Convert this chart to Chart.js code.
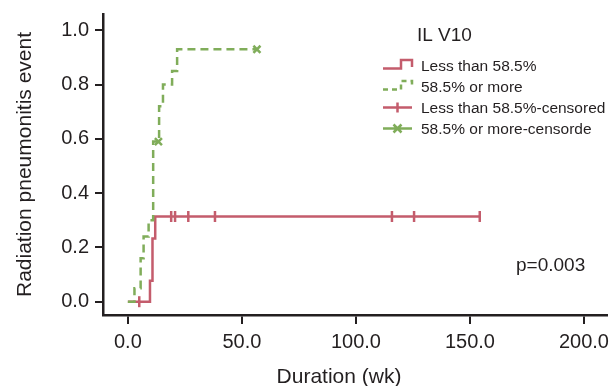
<!DOCTYPE html>
<html lang="en">
<head>
  <meta charset="UTF-8">
  <title>IL V10 - Radiation pneumonitis</title>
  <style>
    body { margin: 0; background: #fff; }
    #chart { display: block; }
  </style>
</head>
<body>
  <canvas id="chart" width="615" height="386"></canvas>

  <script src="https://cdn.jsdelivr.net/npm/chart.js"></script>
  <script>
    // values
    const lowTime = [0, 9.7, 10.8, 12.0, 154.3];
    const lowEvent = [0, 0.077, 0.233, 0.314, 0.314];
    const highTime = [0, 2.9, 5.6, 6.9, 9.1, 11.1, 13.7, 15.4, 19.4, 21.6, 56.6];
    const highEvent = [0, 0.05, 0.16, 0.24, 0.30, 0.59, 0.72, 0.80, 0.85, 0.93, 0.93];
    const lowCensTime = [5.0, 19.0, 20.7, 26.5, 38.2, 115.8, 125.5, 154.3];
    const lowCensEvent = [0, 0.314, 0.314, 0.314, 0.314, 0.314, 0.314, 0.314];
    const highCensTime = [13.4, 56.6];
    const highCensEvent = [0.59, 0.93];
    const xTicks = [0, 50, 100, 150, 200];
    const yTicks = [0, 0.2, 0.4, 0.6, 0.8, 1.0];
    const legendTitle = 'IL V10';
    const legendLabels = ['Less than 58.5%', '58.5% or more', 'Less than 58.5%-censored', '58.5% or more-censorde'];
    const pText = 'p=0.003';

    const RED = '#c45c6c';
    const GREEN = '#80ad5a';
    const INK = '#231f20';
    const FONT = '"Liberation Sans", Arial, sans-serif';

    const pts = (xs, ys) => xs.map((x, i) => ({ x, y: ys[i] }));

    // legend, p value and axis titles
    const extras = {
      id: 'extras',
      afterDraw(chart) {
        const ctx = chart.ctx;
        ctx.save();
        ctx.fillStyle = INK;
        ctx.textBaseline = 'alphabetic';

        ctx.font = '19px ' + FONT;
        ctx.textAlign = 'left';
        ctx.fillText(legendTitle, 417, 41);

        const rows = [65, 86, 107.5, 128.5];
        ctx.font = '15.5px ' + FONT;
        legendLabels.forEach((t, i) => ctx.fillText(t, 421, rows[i] + 5.5));

        ctx.lineWidth = 2.5;
        // stepped icons
        [[RED, []], [GREEN, [5, 4]]].forEach(([c, dash], i) => {
          const y = rows[i];
          ctx.strokeStyle = c;
          ctx.setLineDash(dash);
          ctx.beginPath();
          ctx.moveTo(383, y + 3.5);
          ctx.lineTo(401, y + 3.5);
          ctx.lineTo(401, y - 5);
          ctx.lineTo(412, y - 5);
          ctx.lineTo(412, y + 2);
          ctx.stroke();
        });
        ctx.setLineDash([]);
        // censor icons
        [[RED, 2], [GREEN, 3]].forEach(([c, i]) => {
          const y = rows[i];
          ctx.strokeStyle = c;
          ctx.beginPath();
          ctx.moveTo(383, y);
          ctx.lineTo(412, y);
          if (i === 2) {
            ctx.moveTo(397.5, y - 5);
            ctx.lineTo(397.5, y + 5);
          } else {
            ctx.moveTo(393.5, y - 4);
            ctx.lineTo(401.5, y + 4);
            ctx.moveTo(393.5, y + 4);
            ctx.lineTo(401.5, y - 4);
          }
          ctx.stroke();
        });

        ctx.font = '19px ' + FONT;
        ctx.fillText(pText, 516, 271);

        ctx.font = '21px ' + FONT;
        ctx.textAlign = 'center';
        ctx.fillText('Duration (wk)', 339, 383);

        ctx.translate(31, 164.5);
        ctx.rotate(-Math.PI / 2);
        ctx.fillText('Radiation pneumonitis event', 0, 0);
        ctx.restore();
      }
    };

    new Chart(document.getElementById('chart'), {
      type: 'scatter',
      data: {
        datasets: [
          {
            data: pts(highTime, highEvent),
            showLine: true,
            stepped: true,
            borderColor: GREEN,
            borderWidth: 2.5,
            borderDash: [8, 5],
            pointRadius: 0
          },
          {
            data: pts(lowTime, lowEvent),
            showLine: true,
            stepped: true,
            borderColor: RED,
            borderWidth: 2.5,
            pointRadius: 0
          },
          {
            data: pts(lowCensTime, lowCensEvent),
            pointStyle: 'line',
            rotation: 90,
            pointRadius: 5.5,
            borderColor: RED,
            borderWidth: 2.5
          },
          {
            data: pts(highCensTime, highCensEvent),
            pointStyle: 'crossRot',
            pointRadius: 5,
            borderColor: GREEN,
            borderWidth: 2.5
          }
        ]
      },
      options: {
        responsive: false,
        animation: false,
        layout: { padding: { top: 14, right: 0, left: 0, bottom: 0 } },
        plugins: { legend: { display: false }, tooltip: { enabled: false } },
        scales: {
          x: {
            type: 'linear',
            min: -10.9,
            max: 210.1,
            afterBuildTicks: s => { s.ticks = xTicks.map(v => ({ value: v })); },
            afterFit: s => { s.height = 71; s.paddingLeft = 0; s.paddingRight = 0; },
            grid: { drawOnChartArea: false, tickLength: 9, color: INK, lineWidth: 2 },
            border: { color: INK, width: 2.5 },
            ticks: {
              color: INK,
              padding: 6,
              maxRotation: 0,
              font: { family: FONT, size: 20 },
              callback: v => v.toFixed(1)
            }
          },
          y: {
            min: -0.049,
            max: 1.06,
            afterBuildTicks: s => { s.ticks = yTicks.map(v => ({ value: v })); },
            afterFit: s => { s.width = 103; s.paddingTop = 0; s.paddingBottom = 0; },
            grid: { drawOnChartArea: false, tickLength: 8, color: INK, lineWidth: 2 },
            border: { color: INK, width: 2.5 },
            ticks: {
              color: INK,
              padding: 6,
              font: { family: FONT, size: 20 },
              callback: v => v.toFixed(1)
            }
          }
        }
      },
      plugins: [extras]
    });
  </script>
</body>
</html>
